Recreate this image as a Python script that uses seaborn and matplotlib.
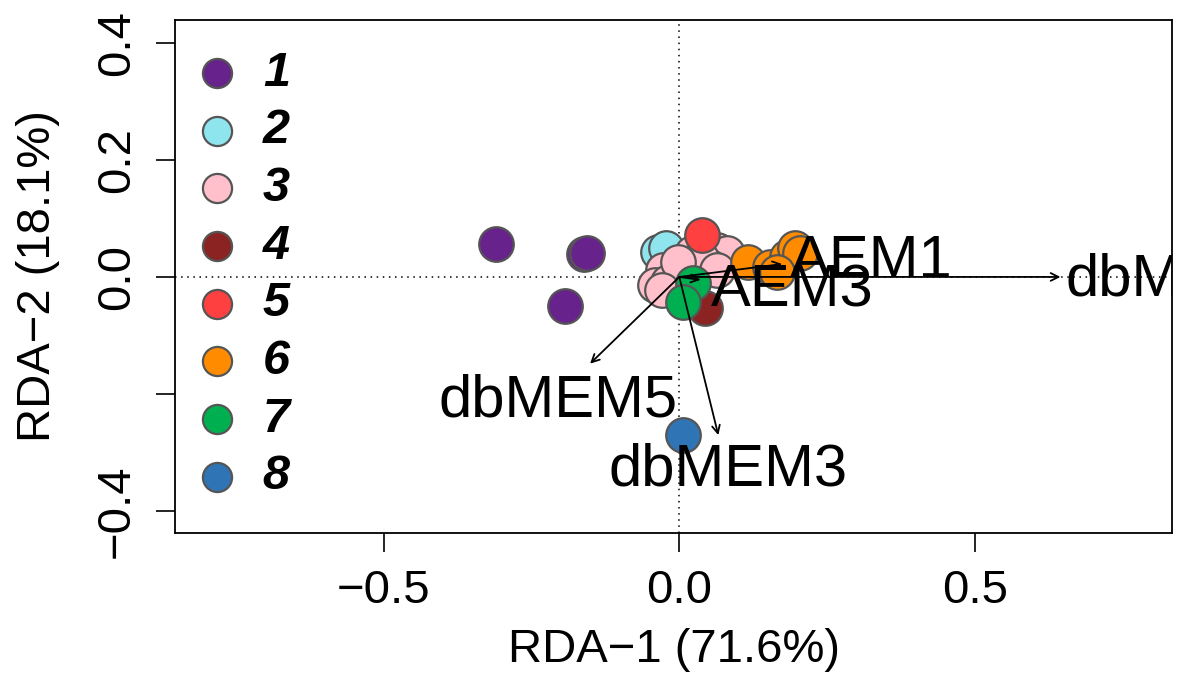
import matplotlib
matplotlib.use("Agg")
import matplotlib.pyplot as plt
import numpy as np
import pandas as pd
import seaborn as sns

# site scores per cluster
groups = ['1', '1', '1', '1',
          '2', '2',
          '3', '3', '3', '3', '3', '3', '3', '3', '3', '3', '3', '3',
          '4',
          '5',
          '6', '6', '6', '6', '6', '6',
          '7', '7',
          '8']
rda1 = [-0.311, -0.162, -0.156, -0.193,
        -0.036, -0.022,
        0.022, 0.064, 0.081, 0.052, -0.027, -0.041, -0.019, 0.019, 0.036, -0.003, -0.029, 0.063,
        0.044,
        0.039,
        0.117, 0.154, 0.183, 0.196, 0.205, 0.166,
        0.024, 0.007,
        0.007]
rda2 = [0.056, 0.039, 0.041, -0.049,
        0.043, 0.049,
        0.041, 0.046, 0.041, 0.017, 0.012, -0.014, -0.009, 0.024, 0.032, 0.026, -0.022, 0.012,
        -0.053,
        0.072,
        0.026, 0.017, 0.034, 0.049, 0.041, 0.009,
        -0.010, -0.043,
        -0.270]

group_colors = {'1': '#68228B', '2': '#8EE5EE', '3': '#FFC0CB', '4': '#8B2323',
                '5': '#FF4040', '6': '#FF8C00', '7': '#00B050', '8': '#2F74B5'}

# explanatory variable arrows (tips) and label positions
var_names = ['dbMEM1', 'dbMEM5', 'dbMEM3', 'AEM1', 'AEM3']
arrow_x = [0.645, -0.151, 0.066, 0.174, 0.036]
arrow_y = [0.0, -0.148, -0.270, 0.022, -0.005]
label_x = [0.855, -0.205, 0.083, 0.325, 0.191]
label_y = [-0.006, -0.212, -0.330, 0.026, -0.024]

xticks = [-0.5, 0.0, 0.5]
xticklabels = ['\u22120.5', '0.0', '0.5']
yticks = [-0.4, -0.2, 0.0, 0.2, 0.4]
yticklabels = ['\u22120.4', '', '0.0', '0.2', '0.4']

sns.set_style('white')
plt.rcParams['font.family'] = ['Liberation Sans', 'DejaVu Sans']
plt.rcParams['text.color'] = 'black'
plt.rcParams['axes.labelcolor'] = 'black'
plt.rcParams['xtick.color'] = 'black'
plt.rcParams['ytick.color'] = 'black'

df = pd.DataFrame({'RDA1': rda1, 'RDA2': rda2, 'group': groups})

fig = plt.figure(figsize=(11.84, 6.88), dpi=100)
ax = fig.add_axes([0.148, 0.2253, 0.842, 0.7457])

ax.axhline(0, color='black', lw=1.1, linestyle=(0, (1, 3)), zorder=1)
ax.axvline(0, color='black', lw=1.1, linestyle=(0, (1, 3)), zorder=1)

for g in sorted(group_colors):
    sub = df[df['group'] == g]
    sns.scatterplot(data=sub, x='RDA1', y='RDA2', color=group_colors[g], s=620,
                    edgecolor='#555555', linewidth=1.6, label=g, ax=ax, zorder=3)

for i, name in enumerate(var_names):
    ax.annotate('', xy=(arrow_x[i], arrow_y[i]), xytext=(0, 0),
                arrowprops=dict(arrowstyle='->', color='black', lw=1.3,
                                mutation_scale=14, shrinkA=0, shrinkB=0),
                zorder=4)
    ax.text(label_x[i], label_y[i], name, fontsize=43, ha='center', va='center',
            clip_on=True, zorder=5)

ax.set_xlim(-0.853, 0.834)
ax.set_ylim(-0.437, 0.4386)
ax.set_xticks(xticks)
ax.set_xticklabels(xticklabels)
ax.set_yticks(yticks)
ax.set_yticklabels(yticklabels, rotation=90, va='center')
ax.tick_params(axis='both', direction='out', length=14, width=1.2, labelsize=34,
               pad=12, left=True, bottom=True)
ax.set_xlabel('RDA\u22121 (71.6%)', fontsize=34, labelpad=11)
ax.set_ylabel('RDA\u22122 (18.1%)', fontsize=34, labelpad=25)
for sp in ax.spines.values():
    sp.set_color('black')
    sp.set_linewidth(1.3)

handles, labels = ax.get_legend_handles_labels()
leg = ax.legend(handles, labels, loc='upper left', bbox_to_anchor=(0.0, 0.973),
                frameon=False,
                prop={'weight': 'bold', 'style': 'italic', 'size': 35},
                labelspacing=0.26, handletextpad=0.45, borderaxespad=0.1,
                borderpad=0.25, handlelength=1.0)
for h in leg.legend_handles:
    h.set_sizes([440])

fig.savefig('out.png', dpi=100)
